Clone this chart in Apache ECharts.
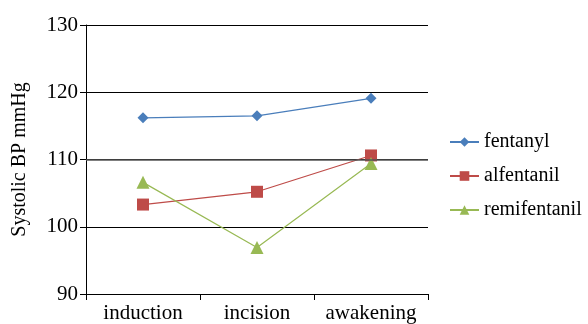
<!DOCTYPE html>
<html><head><meta charset="utf-8">
<script src="https://cdn.jsdelivr.net/npm/echarts@6/dist/echarts.min.js"></script>
<style>html,body{margin:0;padding:0;background:#fff}#c{width:588px;height:324px}</style>
</head><body><div id="c"></div>
<script>
var categories = ['induction', 'incision', 'awakening'];
var fentanyl = [116.2, 116.5, 119.1];
var alfentanil = [103.3, 105.2, 110.6];
var remifentanil = [106.6, 96.9, 109.4];
var yTicks = [90, 100, 110, 120, 130];
var yTitle = 'Systolic BP mmHg';

var font = '"Liberation Serif", "DejaVu Serif", serif';
var chart = echarts.init(document.getElementById('c'), null, {renderer: 'canvas'});
function ser(name, data, color, symbol, size) {
  return {name: name, type: 'line', data: data, symbol: symbol, symbolSize: size,
    lineStyle: {color: color, width: 1.2}, itemStyle: {color: color}, animation: false};
}
var s = [
  ser('fentanyl', fentanyl, '#4A7EBB', 'diamond', 11),
  ser('alfentanil', alfentanil, '#BE4B48', 'rect', 12),
  ser('remifentanil', remifentanil, '#98B954', 'triangle', 13)
];
s[0].markLine = {silent: true, symbol: 'none', label: {show: false},
  lineStyle: {color: '#555', width: 1.6, type: 'solid'}, data: [{yAxis: 110}], animation: false};
chart.setOption({
  animation: false,
  grid: {left: 86, right: 160, top: 25, bottom: 30},
  legend: {orient: 'vertical', left: 444, top: 127, itemWidth: 29, itemHeight: 12, itemGap: 14,
    textStyle: {fontFamily: font, fontSize: 20, color: '#000'},
    data: ['fentanyl', 'alfentanil', 'remifentanil']},
  xAxis: {type: 'category', data: categories, boundaryGap: true,
    axisLine: {lineStyle: {color: '#000', width: 1}},
    axisTick: {show: true, length: 6, lineStyle: {color: '#000'}},
    axisLabel: {fontFamily: font, fontSize: 21, color: '#000', margin: 9, interval: 0}},
  yAxis: {type: 'value', min: yTicks[0], max: yTicks[yTicks.length - 1], interval: 10,
    name: yTitle, nameLocation: 'middle', nameGap: 56, nameRotate: 90,
    nameTextStyle: {fontFamily: font, fontSize: 20, color: '#000'},
    axisLine: {show: true, lineStyle: {color: '#000', width: 1}},
    axisTick: {show: true, length: 6, lineStyle: {color: '#000'}},
    axisLabel: {fontFamily: font, fontSize: 21, color: '#000', margin: 8},
    splitLine: {show: true, lineStyle: {color: '#000', width: 1}}},
  series: s
});
</script></body></html>
